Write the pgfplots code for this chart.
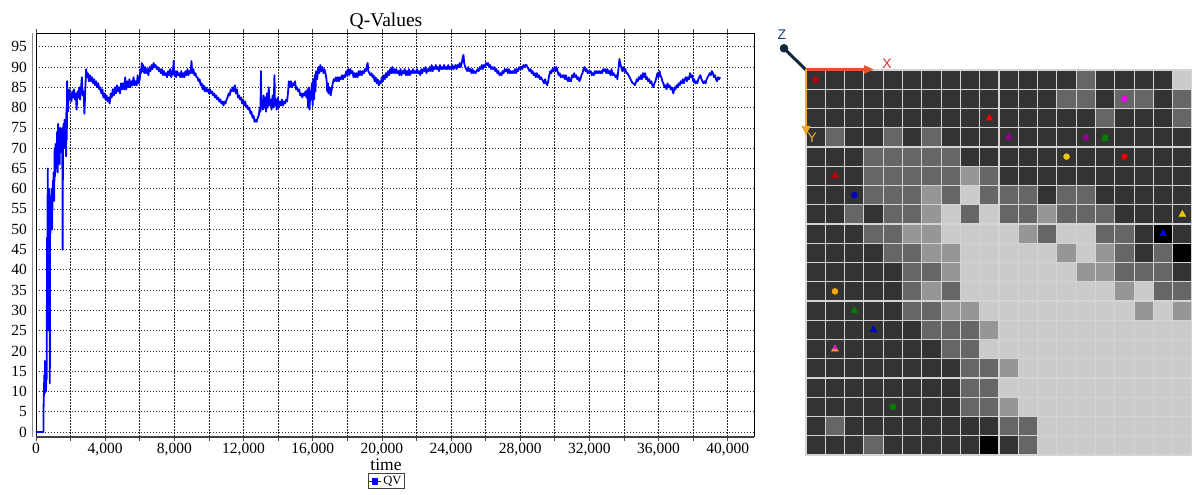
\documentclass[border=0pt]{standalone}
\usepackage{pgfplots}
\pgfplotsset{compat=1.18}
\usepackage{pgfplotstable}
\usepackage{fontspec}
\setmainfont{Liberation Serif}
\newfontfamily\gizmofont{Liberation Sans}
\usetikzlibrary{arrows.meta}

\definecolor{qvblue}{RGB}{0,0,255}
\definecolor{cellline}{RGB}{212,212,212}
\definecolor{xarrow}{RGB}{228,84,40}
\definecolor{xlabel}{RGB}{226,44,44}
\definecolor{yarrow}{RGB}{240,168,48}
\definecolor{ylabel}{RGB}{236,178,52}
\definecolor{zdark}{RGB}{16,40,64}
\definecolor{zlabel}{RGB}{20,60,120}
\definecolor{mkdarkred}{RGB}{190,0,0}
\definecolor{mkred}{RGB}{240,0,0}
\definecolor{mkmagenta}{RGB}{240,0,240}
\definecolor{mkpurple}{RGB}{150,0,150}
\definecolor{mkgreen}{RGB}{0,128,0}
\definecolor{mkgold}{RGB}{240,200,0}
\definecolor{mkorange}{RGB}{250,170,0}
\definecolor{mkblue}{RGB}{0,0,200}
\definecolor{mkbrblue}{RGB}{0,0,255}
\definecolor{mkpeach}{RGB}{240,150,80}

% occupancy grid: column, row, shade level (0 black ... 4 light)
\pgfplotstableread[row sep=\\]{
x y c\\
0 0 1\\ 1 0 1\\ 2 0 1\\ 3 0 1\\ 4 0 1\\ 5 0 1\\ 6 0 1\\ 7 0 1\\ 8 0 1\\ 9 0 1\\ 10 0 1\\ 11 0 1\\ 12 0 1\\ 13 0 1\\ 14 0 2\\ 15 0 1\\ 16 0 1\\ 17 0 1\\ 18 0 1\\ 19 0 4\\
0 1 1\\ 1 1 1\\ 2 1 1\\ 3 1 1\\ 4 1 1\\ 5 1 1\\ 6 1 1\\ 7 1 1\\ 8 1 1\\ 9 1 1\\ 10 1 1\\ 11 1 1\\ 12 1 1\\ 13 1 2\\ 14 1 2\\ 15 1 1\\ 16 1 2\\ 17 1 2\\ 18 1 1\\ 19 1 2\\
0 2 1\\ 1 2 1\\ 2 2 1\\ 3 2 1\\ 4 2 1\\ 5 2 1\\ 6 2 1\\ 7 2 1\\ 8 2 1\\ 9 2 1\\ 10 2 1\\ 11 2 1\\ 12 2 1\\ 13 2 1\\ 14 2 1\\ 15 2 2\\ 16 2 1\\ 17 2 1\\ 18 2 1\\ 19 2 2\\
0 3 1\\ 1 3 2\\ 2 3 1\\ 3 3 1\\ 4 3 2\\ 5 3 1\\ 6 3 2\\ 7 3 1\\ 8 3 1\\ 9 3 1\\ 10 3 1\\ 11 3 1\\ 12 3 1\\ 13 3 1\\ 14 3 1\\ 15 3 1\\ 16 3 1\\ 17 3 1\\ 18 3 1\\ 19 3 1\\
0 4 1\\ 1 4 1\\ 2 4 1\\ 3 4 2\\ 4 4 2\\ 5 4 2\\ 6 4 2\\ 7 4 2\\ 8 4 1\\ 9 4 1\\ 10 4 1\\ 11 4 1\\ 12 4 1\\ 13 4 1\\ 14 4 1\\ 15 4 1\\ 16 4 1\\ 17 4 1\\ 18 4 1\\ 19 4 1\\
0 5 1\\ 1 5 1\\ 2 5 1\\ 3 5 2\\ 4 5 2\\ 5 5 2\\ 6 5 2\\ 7 5 2\\ 8 5 3\\ 9 5 2\\ 10 5 1\\ 11 5 1\\ 12 5 1\\ 13 5 1\\ 14 5 1\\ 15 5 1\\ 16 5 1\\ 17 5 1\\ 18 5 1\\ 19 5 1\\
0 6 1\\ 1 6 1\\ 2 6 1\\ 3 6 2\\ 4 6 2\\ 5 6 2\\ 6 6 3\\ 7 6 2\\ 8 6 4\\ 9 6 2\\ 10 6 2\\ 11 6 2\\ 12 6 1\\ 13 6 2\\ 14 6 2\\ 15 6 1\\ 16 6 1\\ 17 6 1\\ 18 6 1\\ 19 6 1\\
0 7 1\\ 1 7 1\\ 2 7 2\\ 3 7 1\\ 4 7 2\\ 5 7 2\\ 6 7 3\\ 7 7 4\\ 8 7 2\\ 9 7 4\\ 10 7 2\\ 11 7 2\\ 12 7 3\\ 13 7 2\\ 14 7 2\\ 15 7 2\\ 16 7 1\\ 17 7 1\\ 18 7 1\\ 19 7 1\\
0 8 1\\ 1 8 1\\ 2 8 1\\ 3 8 2\\ 4 8 2\\ 5 8 3\\ 6 8 3\\ 7 8 4\\ 8 8 4\\ 9 8 4\\ 10 8 4\\ 11 8 3\\ 12 8 2\\ 13 8 4\\ 14 8 4\\ 15 8 2\\ 16 8 2\\ 17 8 1\\ 18 8 0\\ 19 8 1\\
0 9 1\\ 1 9 1\\ 2 9 1\\ 3 9 1\\ 4 9 2\\ 5 9 2\\ 6 9 3\\ 7 9 3\\ 8 9 4\\ 9 9 4\\ 10 9 4\\ 11 9 4\\ 12 9 4\\ 13 9 3\\ 14 9 4\\ 15 9 3\\ 16 9 2\\ 17 9 1\\ 18 9 2\\ 19 9 0\\
0 10 1\\ 1 10 1\\ 2 10 1\\ 3 10 1\\ 4 10 1\\ 5 10 2\\ 6 10 2\\ 7 10 3\\ 8 10 4\\ 9 10 4\\ 10 10 4\\ 11 10 4\\ 12 10 4\\ 13 10 4\\ 14 10 3\\ 15 10 3\\ 16 10 2\\ 17 10 2\\ 18 10 2\\ 19 10 1\\
0 11 1\\ 1 11 1\\ 2 11 1\\ 3 11 1\\ 4 11 1\\ 5 11 2\\ 6 11 3\\ 7 11 2\\ 8 11 4\\ 9 11 4\\ 10 11 4\\ 11 11 4\\ 12 11 4\\ 13 11 4\\ 14 11 4\\ 15 11 4\\ 16 11 3\\ 17 11 4\\ 18 11 2\\ 19 11 2\\
0 12 1\\ 1 12 1\\ 2 12 1\\ 3 12 1\\ 4 12 1\\ 5 12 2\\ 6 12 2\\ 7 12 3\\ 8 12 3\\ 9 12 4\\ 10 12 4\\ 11 12 4\\ 12 12 4\\ 13 12 4\\ 14 12 4\\ 15 12 4\\ 16 12 4\\ 17 12 3\\ 18 12 4\\ 19 12 3\\
0 13 1\\ 1 13 1\\ 2 13 1\\ 3 13 1\\ 4 13 1\\ 5 13 1\\ 6 13 2\\ 7 13 2\\ 8 13 2\\ 9 13 3\\ 10 13 4\\ 11 13 4\\ 12 13 4\\ 13 13 4\\ 14 13 4\\ 15 13 4\\ 16 13 4\\ 17 13 4\\ 18 13 4\\ 19 13 4\\
0 14 1\\ 1 14 1\\ 2 14 1\\ 3 14 1\\ 4 14 1\\ 5 14 1\\ 6 14 1\\ 7 14 2\\ 8 14 2\\ 9 14 4\\ 10 14 4\\ 11 14 4\\ 12 14 4\\ 13 14 4\\ 14 14 4\\ 15 14 4\\ 16 14 4\\ 17 14 4\\ 18 14 4\\ 19 14 4\\
0 15 1\\ 1 15 1\\ 2 15 1\\ 3 15 1\\ 4 15 1\\ 5 15 1\\ 6 15 1\\ 7 15 1\\ 8 15 2\\ 9 15 2\\ 10 15 3\\ 11 15 4\\ 12 15 4\\ 13 15 4\\ 14 15 4\\ 15 15 4\\ 16 15 4\\ 17 15 4\\ 18 15 4\\ 19 15 4\\
0 16 1\\ 1 16 1\\ 2 16 1\\ 3 16 1\\ 4 16 1\\ 5 16 1\\ 6 16 1\\ 7 16 1\\ 8 16 2\\ 9 16 2\\ 10 16 4\\ 11 16 4\\ 12 16 4\\ 13 16 4\\ 14 16 4\\ 15 16 4\\ 16 16 4\\ 17 16 4\\ 18 16 4\\ 19 16 4\\
0 17 1\\ 1 17 1\\ 2 17 1\\ 3 17 1\\ 4 17 1\\ 5 17 1\\ 6 17 1\\ 7 17 1\\ 8 17 2\\ 9 17 2\\ 10 17 3\\ 11 17 4\\ 12 17 4\\ 13 17 4\\ 14 17 4\\ 15 17 4\\ 16 17 4\\ 17 17 4\\ 18 17 4\\ 19 17 4\\
0 18 1\\ 1 18 2\\ 2 18 1\\ 3 18 1\\ 4 18 1\\ 5 18 1\\ 6 18 1\\ 7 18 1\\ 8 18 1\\ 9 18 1\\ 10 18 2\\ 11 18 2\\ 12 18 4\\ 13 18 4\\ 14 18 4\\ 15 18 4\\ 16 18 4\\ 17 18 4\\ 18 18 4\\ 19 18 4\\
0 19 1\\ 1 19 1\\ 2 19 1\\ 3 19 2\\ 4 19 1\\ 5 19 1\\ 6 19 1\\ 7 19 1\\ 8 19 1\\ 9 19 0\\ 10 19 1\\ 11 19 2\\ 12 19 4\\ 13 19 4\\ 14 19 4\\ 15 19 4\\ 16 19 4\\ 17 19 4\\ 18 19 4\\ 19 19 4\\
}\gridcells

\begin{document}
\begin{tikzpicture}[x=1pt,y=1pt]
\useasboundingbox (0pt,0pt) rectangle (1192pt,495pt);

% ---------------- Q-value history ----------------
\begin{axis}[
  at={(36pt,58.3pt)}, anchor=south west,
  scale only axis, width=718pt, height=403.7pt,
  xmin=0, xmax=41520, ymin=-1.15, ymax=98.4,
  xtick={0,4000,...,40000},
  minor xtick={2000,6000,...,38000},
  ytick={0,5,...,95},
  scaled x ticks=false,
  /pgf/number format/assume math mode=true,
  /pgf/number format/1000 sep={,},
  grid=both,
  major grid style={black!85, line width=0.7pt, dash pattern=on 1.2pt off 1.8pt},
  minor grid style={black!85, line width=0.7pt, dash pattern=on 1.2pt off 1.8pt},
  axis line style={black, line width=0.9pt},
  tick align=outside,
  xtick style={black!70, line width=0.7pt},
  major tick length=4pt, minor tick length=4pt,
  ytick style={draw=none},
  tick label style={font=\fontsize{15.5}{16}\selectfont},
  xticklabel style={anchor=north, inner sep=0pt, yshift=-2pt},
  yticklabel style={anchor=east, inner sep=0pt, xshift=-5pt},
  title={Q-Values},
  title style={font=\fontsize{19.5}{20}\selectfont, at={(axis description cs:0.4875,1.015)}, anchor=center},
  xlabel={time},
  xlabel style={font=\fontsize{17.5}{18}\selectfont, at={(axis description cs:0.4875,-0.069)}, anchor=center},
  legend style={at={(axis description cs:0.4875,-0.11)}, anchor=center,
    draw=black!75, line width=0.7pt, inner sep=0.5pt,
    font=\fontsize{12.5}{13}\selectfont},
  legend cell align=left,
  legend image code/.code={%
    \draw[qvblue, line width=0.9pt] (0pt,0pt) -- (12pt,0pt);
    \fill[qvblue] (3.5pt,-2.6pt) rectangle (8.5pt,2.6pt);},
  after end axis/.code={%
    \draw[black!75, line width=1.8pt] (rel axis cs:0,0) -- (rel axis cs:1,0);
    \draw[black!45, line width=0.6pt] ([xshift=-4pt]rel axis cs:0,0) -- ([xshift=-4pt]rel axis cs:0,1);},
]
\addplot[qvblue, line width=1.8pt, line join=round] table {
t v
0 0
200 0
430 0
440 6.5
460 10
480 14
500 9.5
520 17.5
540 12
560 16
580 10
600 15
620 13
640 48
660 44
680 65
690 50
700 47
710 60
720 49
730 53
740 25
750 55
760 48
770 60
780 30
790 50
800 12
810 52
830 49
850 58
870 51
890 55
910 60
930 50
950 56
980 62
1000 58
1020 64
1050 57
1080 70
1100 63
1130 71
1160 65
1190 68
1220 74
1250 64
1280 76
1310 67
1340 74
1370 66
1400 75
1430 69
1460 73
1490 70
1520 75
1540 45
1560 72
1590 76
1620 70
1650 77
1680 71
1710 74
1740 68
1760 80
1780 72
1800 86.5
1820 80
1840 84
1860 79
1880 83
1900 82
1930 84.5
1960 82
2000 83.5
2050 81.5
2100 84
2150 82.5
2200 84.5
2250 82
2300 83.5
2350 79.5
2400 84
2450 82.5
2500 85
2550 82
2600 84.5
2650 87.5
2700 83
2750 84
2800 78.5
2850 84.5
2900 89.5
2950 87.5
3000 88.5
3060 86.5
3120 88
3180 86.5
3240 87.5
3300 86
3360 87
3420 85.5
3480 86.5
3540 85
3600 86
3660 84.5
3720 85
3780 83.5
3840 84.5
3900 82.5
3960 83.5
4020 82
4080 83
4140 81.5
4200 82.5
4260 81
4320 83.5
4380 82.5
4440 84.5
4500 83
4560 85
4620 83.5
4680 85.5
4740 84
4800 85
4860 83.5
4920 86
4980 84.5
5040 86
5100 84.5
5160 87.5
5220 84.5
5280 86.5
5340 85
5400 87
5460 85
5520 86.5
5580 85.5
5640 87.5
5700 85.5
5760 86.5
5820 85.5
5880 88
5940 86
6000 87
6040 89.5
6080 88.5
6120 91
6160 89
6200 90.5
6260 88.5
6320 90
6380 88.5
6440 89.5
6500 88
6560 90
6620 89
6680 90.5
6740 89.5
6800 91
6860 90
6920 90.5
6980 89.5
7040 90
7100 89
7160 89.5
7220 88.5
7280 89.5
7340 88
7400 89
7460 88
7520 88.5
7580 87.5
7640 89
7700 88
7760 89.5
7820 87.5
7880 88.5
7940 90
7960 91.5
7990 88
8040 89
8100 87.5
8160 89
8220 88
8280 88.5
8340 87.5
8400 89
8460 87.5
8520 88.5
8580 87.5
8640 89
8700 88
8760 89.5
8820 88
8880 89
8940 88.5
8990 91.5
9040 88.5
9100 89.5
9160 88
9220 88.5
9280 87.5
9340 87.5
9400 86.5
9460 87
9520 85.5
9580 86
9640 84.5
9700 85.5
9760 84
9820 85
9880 84
9940 84.5
10000 83.5
10060 84.5
10120 83.5
10180 84
10240 83
10300 83.5
10360 82.5
10420 83
10480 82
10540 82.5
10600 81.5
10660 82
10720 81
10780 81.5
10840 80.5
10900 81.5
10960 81
11020 82
11080 82.5
11140 83.5
11200 83
11260 84.5
11320 84
11380 85
11440 84
11500 85.5
11560 83.5
11620 84.5
11680 82.5
11740 83
11800 82
11860 82.5
11920 81
11980 82
12040 80.5
12100 81.5
12160 80
12220 80.5
12280 79.5
12340 80
12400 78.5
12460 79
12520 77.5
12580 78
12640 76.5
12700 77
12760 76.5
12820 77.5
12880 78
12940 80
12980 79
13010 89
13030 80
13080 81.5
13120 79.5
13160 83
13200 80
13260 82.5
13300 79
13350 83.5
13400 80
13460 85
13500 80.5
13560 82
13620 79.5
13680 83
13740 80
13790 88
13820 80.5
13870 82
13920 79.5
13980 82.5
14040 80
14100 81.5
14160 80.5
14220 82
14280 80.5
14340 81.5
14400 81
14460 82
14520 81.5
14580 84
14620 86.5
14680 85
14740 86.5
14800 85
14860 86
14920 85.5
14980 86.5
15040 84.5
15100 85
15160 84
15220 84.5
15280 83
15340 83.5
15400 82.5
15460 83.5
15520 83
15580 84
15640 82.5
15700 84.5
15740 80
15780 85
15820 79.5
15860 84
15900 82
15950 86
16000 80.5
16040 87
16080 82
16120 88
16160 84
16200 89
16260 87
16320 90
16380 88.5
16440 90.5
16500 89
16560 90
16620 88.5
16680 89.5
16740 88.5
16800 87
16840 84
16880 86
16920 83.5
16980 85
17040 83
17100 84.5
17160 86
17220 87
17280 86.5
17340 87.5
17400 86.5
17460 87.5
17520 86.5
17580 87.5
17640 87
17700 88
17760 87
17820 88
17880 87.5
17940 89
18000 88
18060 89.5
18120 88
18180 89.5
18240 88.5
18300 89
18360 87.5
18420 88.5
18480 87.5
18540 88.5
18600 87.5
18660 89
18720 88
18780 89
18840 88
18900 89
18960 88.5
19020 89.5
19080 89
19140 90.5
19180 91
19220 89
19280 88.5
19340 88
19400 88.5
19460 87.5
19520 88
19580 86.5
19640 87.5
19700 86
19760 87
19820 85.5
19880 86.5
19940 86
20000 87.5
20060 86.5
20120 88
20180 87
20240 88.5
20300 87.5
20360 89
20420 88
20480 89.5
20540 88.5
20600 90
20660 88.5
20720 89.5
20780 88.5
20840 89.5
20900 88.5
20960 89
21020 88
21080 89.5
21140 88
21200 89
21260 88.5
21320 89.5
21380 88
21440 89
21500 88
21560 89.5
21620 88
21680 89
21740 88.5
21800 89.5
21860 88.5
21920 89
21980 88.5
22040 89.5
22100 88.5
22160 89
22220 88
22280 89.5
22340 88.5
22400 89.5
22460 89
22520 90
22580 88.5
22640 89.5
22700 89
22760 90
22820 89
22880 90.5
22940 89
23000 90
23060 89.5
23120 90.5
23180 89.5
23240 90
23300 89
23360 90.5
23420 89.5
23480 90
23540 89.5
23600 90.5
23660 89.5
23720 90
23780 89.5
23840 90.5
23900 89.5
23960 90
24020 89.5
24080 90.5
24140 89.5
24200 90
24260 90.5
24320 89.5
24380 90.5
24440 90
24500 91
24560 90
24620 91
24680 92.5
24720 93
24760 91
24820 90
24880 89.5
24940 89
25000 90
25060 89
25120 89.5
25180 88.5
25240 89.5
25300 88.5
25360 89
25420 88.5
25480 89
25540 89.5
25600 89
25660 90
25720 89.5
25780 90.5
25840 89.5
25900 90.5
25960 90
26020 91
26080 90.5
26140 91
26200 90
26260 90.5
26320 89.5
26380 90
26440 89.5
26500 90
26560 89
26620 89.5
26680 88.5
26740 89
26800 88
26860 88.5
26920 88
26980 89
27040 88.5
27100 89.5
27160 89
27220 89.5
27280 88.5
27340 89.5
27400 88.5
27460 89
27520 88.5
27580 89
27640 88.5
27700 89.5
27760 88.5
27820 89.5
27880 89
27940 90
28000 89.5
28060 90
28120 89.5
28180 90.5
28240 90
28300 90.5
28360 90.5
28420 90
28480 89.5
28540 89
28600 89.5
28660 88.5
28720 89
28780 88
28840 88.5
28900 87.5
28960 88.5
29020 87.5
29080 88
29140 87
29200 87.5
29260 87
29320 86.5
29380 86
29440 87
29500 86
29560 85.5
29620 86.5
29680 88
29740 89
29800 88.5
29860 89.5
29920 89
29980 90
30040 89
30100 90
30160 89
30220 88
30280 88.5
30340 87.5
30400 88
30460 87.5
30520 88
30580 87
30640 88
30700 87
30760 86.5
30820 87.5
30880 86.5
30940 86.5
31000 88
31060 87.5
31120 88.5
31180 87.5
31240 88
31300 87
31360 87.5
31420 86.5
31480 87
31540 88
31600 88.5
31660 89.5
31720 90
31780 89
31840 89.5
31900 88.5
31960 89
32020 88.5
32080 89
32140 88
32200 88.5
32260 88
32320 89
32380 88.5
32440 89
32500 88.5
32560 89
32620 88.5
32680 89
32740 88.5
32800 89.5
32860 89
32920 89.5
32980 88.5
33040 89.5
33100 88.5
33160 89
33220 88
33280 89.5
33340 88
33400 88.5
33460 88
33520 87.5
33580 88
33620 87
33680 89.5
33740 92
33780 91
33840 90
33900 89
33960 90
34020 89
34080 89.5
34140 88.5
34200 88.5
34260 88
34320 87.5
34380 87
34440 86.5
34500 86
34560 86
34620 85.5
34680 86
34740 87
34800 86.5
34860 87.5
34920 87
34980 88
35040 87
35100 88.5
35160 87.5
35220 88.5
35280 87
35340 87.5
35400 86.5
35460 87
35520 86
35580 86.5
35640 85.5
35700 85
35760 86
35820 86.5
35880 87.5
35940 88.5
36000 87.5
36060 89
36100 88
36160 87.5
36220 86.5
36280 86
36340 85
36400 85.5
36460 84.5
36520 86
36580 85
36640 85.5
36700 84.5
36760 85
36820 84
36860 83.5
36920 85
36980 84.5
37040 85.5
37100 85
37160 86
37220 85.5
37280 86.5
37340 86
37400 87
37460 86
37520 87
37580 87.5
37640 86.5
37700 87.5
37760 87
37820 88.5
37880 87.5
37940 88
38000 86.5
38060 87
38120 86
38180 86.5
38240 86
38300 87
38360 87.5
38420 88
38480 87
38540 86.5
38600 86
38660 86.5
38720 86
38780 87
38840 87.5
38900 88
38960 88.5
39020 88
39080 89
39140 88.5
39200 87.5
39260 88
39320 87
39380 86.5
39440 87.5
39500 87
39560 87.5
};
\addlegendentry{QV}
\end{axis}

% ---------------- occupancy grid with agents ----------------
\begin{axis}[
  at={(806pt,40pt)}, anchor=south west,
  scale only axis, width=386pt, height=385pt,
  xmin=-0.5, xmax=19.5, ymin=-0.5, ymax=19.5,
  y dir=reverse, hide axis, clip=false,
  colormap={shades}{rgb255(0)=(0,0,0) rgb255(1)=(51,51,51) rgb255(2)=(102,102,102) rgb255(3)=(150,150,150) rgb255(4)=(203,203,203)},
  point meta min=0, point meta max=4,
]
\addplot[scatter, only marks, mark=square*, mark size=9.65pt,
  point meta=explicit,
  scatter/use mapped color={draw=cellline, fill=mapped color},
  mark options={line width=1.1pt}]
  table[x=x, y=y, meta=c] {\gridcells};

% circular agents
\addplot[only marks, mark=*, mark size=3pt, color=mkdarkred] coordinates {(0,0)};
\addplot[only marks, mark=*, mark size=3pt, color=mkmagenta] coordinates {(16,1)};
\addplot[only marks, mark=*, mark size=3pt, color=mkpurple] coordinates {(14,3)};
\addplot[only marks, mark=*, mark size=3pt, color=mkgreen] coordinates {(15,3)};
\addplot[only marks, mark=*, mark size=3pt, color=mkgold] coordinates {(13,4)};
\addplot[only marks, mark=*, mark size=3pt, color=mkred] coordinates {(16,4)};
\addplot[only marks, mark=*, mark size=3pt, color=mkblue] coordinates {(2,6)};
\addplot[only marks, mark=*, mark size=3pt, color=mkorange] coordinates {(1,11)};
\addplot[only marks, mark=*, mark size=3pt, color=mkgreen] coordinates {(4,17)};
% triangular agents
\addplot[only marks, mark=triangle*, mark size=4pt, color=mkred] coordinates {(9,2)};
\addplot[only marks, mark=triangle*, mark size=4pt, color=mkpurple] coordinates {(10,3)};
\addplot[only marks, mark=triangle*, mark size=4pt, color=mkgreen] coordinates {(15,3.08)};
\addplot[only marks, mark=triangle*, mark size=4pt, color=mkdarkred] coordinates {(1,5)};
\addplot[only marks, mark=triangle*, mark size=4pt, color=mkgold] coordinates {(19,7)};
\addplot[only marks, mark=triangle*, mark size=4pt, color=mkbrblue] coordinates {(18,8)};
\addplot[only marks, mark=triangle*, mark size=4pt, color=mkgreen] coordinates {(2,12)};
\addplot[only marks, mark=triangle*, mark size=4pt, color=mkblue] coordinates {(3,13)};
\addplot[only marks, mark=triangle*, mark size=4pt, color=mkpeach] coordinates {(1,14)};
\addplot[only marks, mark=triangle*, mark size=2.4pt, color=mkmagenta] coordinates {(1,13.93)};
\end{axis}

% ---------------- frame gizmo ----------------
\draw[zdark, line width=3pt, line cap=round] (806pt,425pt) -- (784pt,446.7pt);
\fill[zdark] (784pt,446.7pt) circle (4.3pt);
\draw[xarrow, line width=2.8pt, -{Triangle[length=10pt,width=8pt]}] (806pt,425.5pt) -- (874pt,425.5pt);
\draw[yarrow, line width=2.8pt, -{Triangle[length=10pt,width=8pt]}] (806pt,425.5pt) -- (806pt,359pt);
\node[text=xlabel, font=\gizmofont\fontsize{14}{14}\selectfont] at (887pt,431.5pt) {X};
\node[text=ylabel, font=\gizmofont\fontsize{14}{14}\selectfont] at (812pt,357pt) {Y};
\node[text=zlabel, font=\gizmofont\fontsize{14}{14}\selectfont] at (782pt,460pt) {Z};
\end{tikzpicture}
\end{document}
